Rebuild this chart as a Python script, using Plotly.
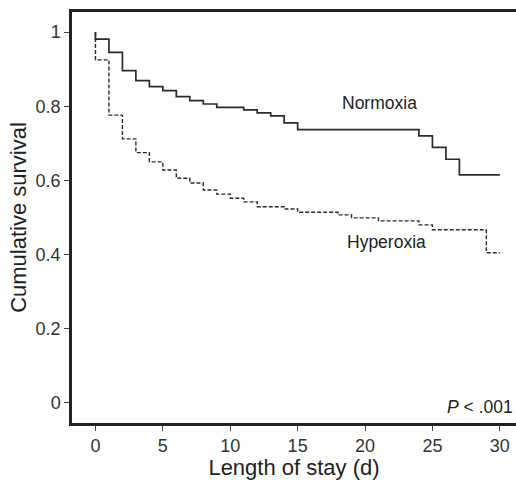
import plotly.graph_objects as go

# Kaplan-Meier step data (day, cumulative survival after events on that day)
normoxia_days = [0, 0, 1, 2, 3, 4, 5, 6, 7, 8, 9, 11, 12, 13, 14, 15, 24, 25, 26, 27, 30]
normoxia_surv = [1.0, 0.981, 0.945, 0.896, 0.869, 0.853, 0.842, 0.826, 0.815, 0.806, 0.797,
                 0.790, 0.782, 0.774, 0.755, 0.737, 0.720, 0.689, 0.657, 0.615, 0.615]

hyperoxia_days = [0, 0, 1, 2, 3, 4, 5, 6, 7, 8, 9, 10, 11, 12, 14, 15, 18, 19, 21, 24, 25, 29, 30]
hyperoxia_surv = [1.0, 0.925, 0.776, 0.712, 0.675, 0.650, 0.628, 0.606, 0.593, 0.574, 0.563,
                  0.552, 0.542, 0.529, 0.523, 0.514, 0.507, 0.499, 0.491, 0.480, 0.467, 0.405, 0.405]

x_ticks = [0, 5, 10, 15, 20, 25, 30]
y_ticks = [0, 0.2, 0.4, 0.6, 0.8, 1]
y_tick_labels = ["0", "0.2", "0.4", "0.6", "0.8", "1"]

FONT = "Liberation Sans, Arial, sans-serif"

fig = go.Figure()
fig.add_trace(go.Scatter(x=normoxia_days, y=normoxia_surv, mode="lines", line_shape="hv",
                         line=dict(color="#2b2b2b", width=1.7), name="Normoxia"))
fig.add_trace(go.Scatter(x=hyperoxia_days, y=hyperoxia_surv, mode="lines", line_shape="hv",
                         line=dict(color="#2b2b2b", width=1.4, dash="4px,2px"), name="Hyperoxia"))

fig.add_annotation(x=21.1, y=0.809, text="Normoxia", showarrow=False,
                   font=dict(family=FONT, size=17.5, color="#222"))
fig.add_annotation(x=21.6, y=0.434, text="Hyperoxia", showarrow=False,
                   font=dict(family=FONT, size=17.5, color="#222"))
fig.add_annotation(x=31.1, y=-0.011, text="<i>P</i> < .001", showarrow=False, xanchor="right",
                   font=dict(family=FONT, size=17.5, color="#222"))

fig.update_layout(
    width=516, height=480,
    margin=dict(l=72, r=0, t=12, b=57),
    paper_bgcolor="white", plot_bgcolor="white",
    showlegend=False,
    font=dict(family=FONT, color="#333"),
)
fig.update_xaxes(
    range=[-1.74, 31.2], tickvals=x_ticks, ticks="outside", ticklen=5, tickwidth=1,
    tickcolor="#444", showline=True, linecolor="#222", linewidth=2.5, mirror=True,
    showgrid=False, zeroline=False, tickfont=dict(size=18, color="#333"),
    title=dict(text="Length of stay (d)", font=dict(size=22, color="#222"), standoff=1),
)
fig.update_yaxes(
    range=[-0.054, 1.054], tickvals=y_ticks, ticktext=y_tick_labels, ticks="outside",
    ticklen=5, tickwidth=1, tickcolor="#444", showline=True, linecolor="#222", linewidth=2.5,
    mirror=False, showgrid=False, zeroline=False, tickfont=dict(size=18, color="#333"),
    title=dict(text="Cumulative survival", font=dict(size=22, color="#222"), standoff=3),
)

fig.write_html("out.html")
